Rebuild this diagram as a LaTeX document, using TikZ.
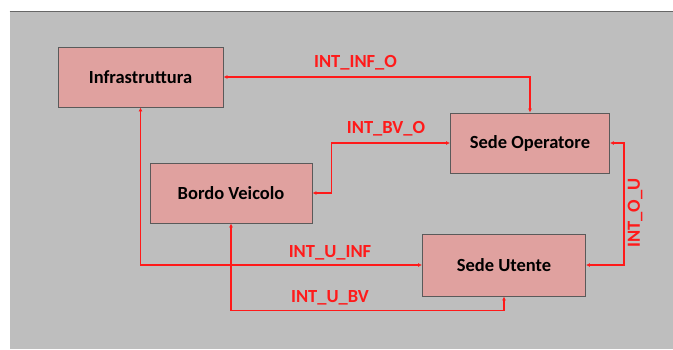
\documentclass[tikz,border=0pt]{standalone}
\usepackage{fontspec}
\setmainfont{Carlito}
\usetikzlibrary{arrows.meta}
\definecolor{bggray}{HTML}{BEBEBE}
\definecolor{boxfill}{HTML}{E0A19F}
\definecolor{boxline}{HTML}{5A5A5A}
\definecolor{linkred}{HTML}{FF1A1A}
\begin{document}
\begin{tikzpicture}[x=1pt,y=-1pt,
  block/.style={draw=boxline,line width=0.9pt,fill=boxfill,minimum width=#1,minimum height=60pt,inner sep=0pt,font=\fontsize{18.5}{22}\selectfont\bfseries},
  link/.style={draw=linkred,line width=1.3pt,{Latex[length=4pt,width=4pt]}-{Latex[length=4pt,width=4pt]}},
  lbl/.style={text=linkred,font=\fontsize{18.5}{22}\selectfont\bfseries,inner sep=0pt}]
\useasboundingbox (0,0) rectangle (673,349);
\fill[bggray] (9.5,11.5) rectangle (673,349);
\draw[color=gray!80!black,line width=0.5pt] (9.5,11.5) -- (673,11.5);
\node[block=165pt] (inf) at (140.5,77) {Infrastruttura};
\node[block=159pt] (so) at (530,143) {Sede Operatore};
\node[block=162pt] (bv) at (231,193) {Bordo Veicolo};
\node[block=163pt,minimum height=62pt] (su) at (504,265) {Sede Utente};
\draw[link] (inf.east) -| (so.north);
\draw[link] (bv.east) -- ++(19,0) |- (so.west);
\draw[link] (so.east) -- ++(14,0) |- (su.east);
\draw[link] (inf.south) |- (su.west);
\draw[link] (bv.south) -- ++(0,87) -| (su.south);
\node[lbl] (l1) at (355.5,63) {INT\_INF\_O};
\node[lbl] (l2) at (386,129) {INT\_BV\_O};
\node[lbl,rotate=90] (l3) at (635,213) {INT\_O\_U};
\node[lbl] (l4) at (330,253) {INT\_U\_INF};
\node[lbl] (l5) at (330,298) {INT\_U\_BV};
\end{tikzpicture}
\end{document}
